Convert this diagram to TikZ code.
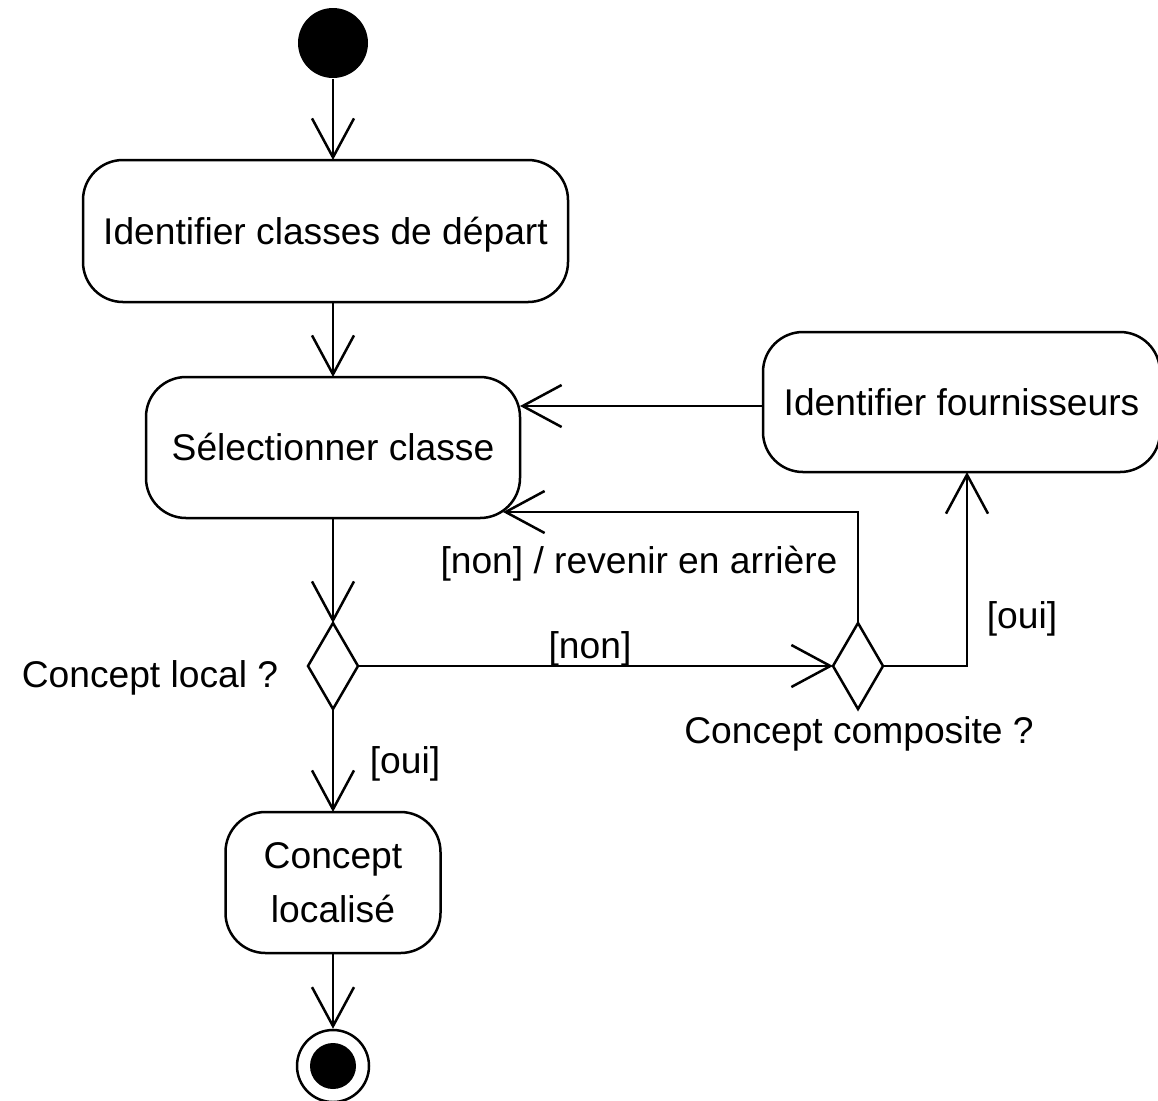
\documentclass[tikz,border=0pt]{standalone}
\usepackage{fontspec}
\setmainfont{Liberation Sans}
\usetikzlibrary{arrows.meta,shapes.geometric,calc}
\begin{document}
\begin{tikzpicture}[x=0.5pt,y=-0.5pt,
  line width=1.25pt,
  every node/.style={font=\fontsize{18.6pt}{27pt}\selectfont},
  box/.style={draw, rounded corners=20pt, inner sep=0pt, outer sep=0pt},
  action/.style={box, text height=13.3pt, text depth=0pt},
  decision/.style={draw, diamond, inner sep=0pt, outer sep=0pt,
                   minimum width=25pt, minimum height=43pt},
  flow/.style={-{Straight Barb[length=19.5pt,width=21pt]}},
  lbl/.style={anchor=base, inner sep=0pt}]
\useasboundingbox (0,0) rectangle (1158,1100);

% initial and final states
\node[circle, fill=black, minimum size=35pt, inner sep=0pt] (start) at (333,43) {};
\node[circle, draw, minimum size=36pt, inner sep=0pt] (end) at (333,1066) {};
\fill (end.center) circle (11.5pt);

% actions
\node[action, minimum width=242.5pt, minimum height=71pt] (b1) at (325.5,231) {Identifier classes de départ};
\node[action, minimum width=187pt, minimum height=70.5pt] (b2) at (333,447.5) {Sélectionner classe};
\node[action, minimum width=198.5pt, minimum height=70pt] (b3) at (961.5,402) {Identifier fournisseurs};
\node[box, align=center, minimum width=107.5pt, minimum height=70.5pt] (b4) at (333,882.5) {Concept\\localisé};

% decisions
\node[decision] (d1) at (333,666) {};
\node[decision] (d2) at (858,666) {};

% decision captions and guards
\node[lbl] (q1) at (150,687) {Concept local ?};
\node[lbl] (q2) at (859,743) {Concept composite ?};
\node[lbl] (g1) at (639,573) {[non] / revenir en arrière};
\node[lbl] (g2) at (590,658) {[non]};
\node[lbl] (g3) at (1022,628) {[oui]};
\node[lbl] (g4) at (405,773) {[oui]};

% control flows
\draw[flow] (start) -- (start |- b1.north);
\draw[flow] (b2.north |- b1.south) -- (b2.north);
\draw[flow] (b2) -- (d1);
\draw[flow] (d1) -- (d2);
\draw[flow] (d1) -- (b4);
\draw[flow] (b4) -- (end);
\draw[flow] (d2.east) -| ([xshift=2.75pt]b3.south);
\coordinate (b2c) at ($(b2.south east)+(-17,-6)$);
\draw[flow] (d2.north) |- (b2c);
\draw[flow] ([yshift=-2pt]b3.west) -- ([yshift=-2pt]b3.west -| b2.east);
\end{tikzpicture}
\end{document}
